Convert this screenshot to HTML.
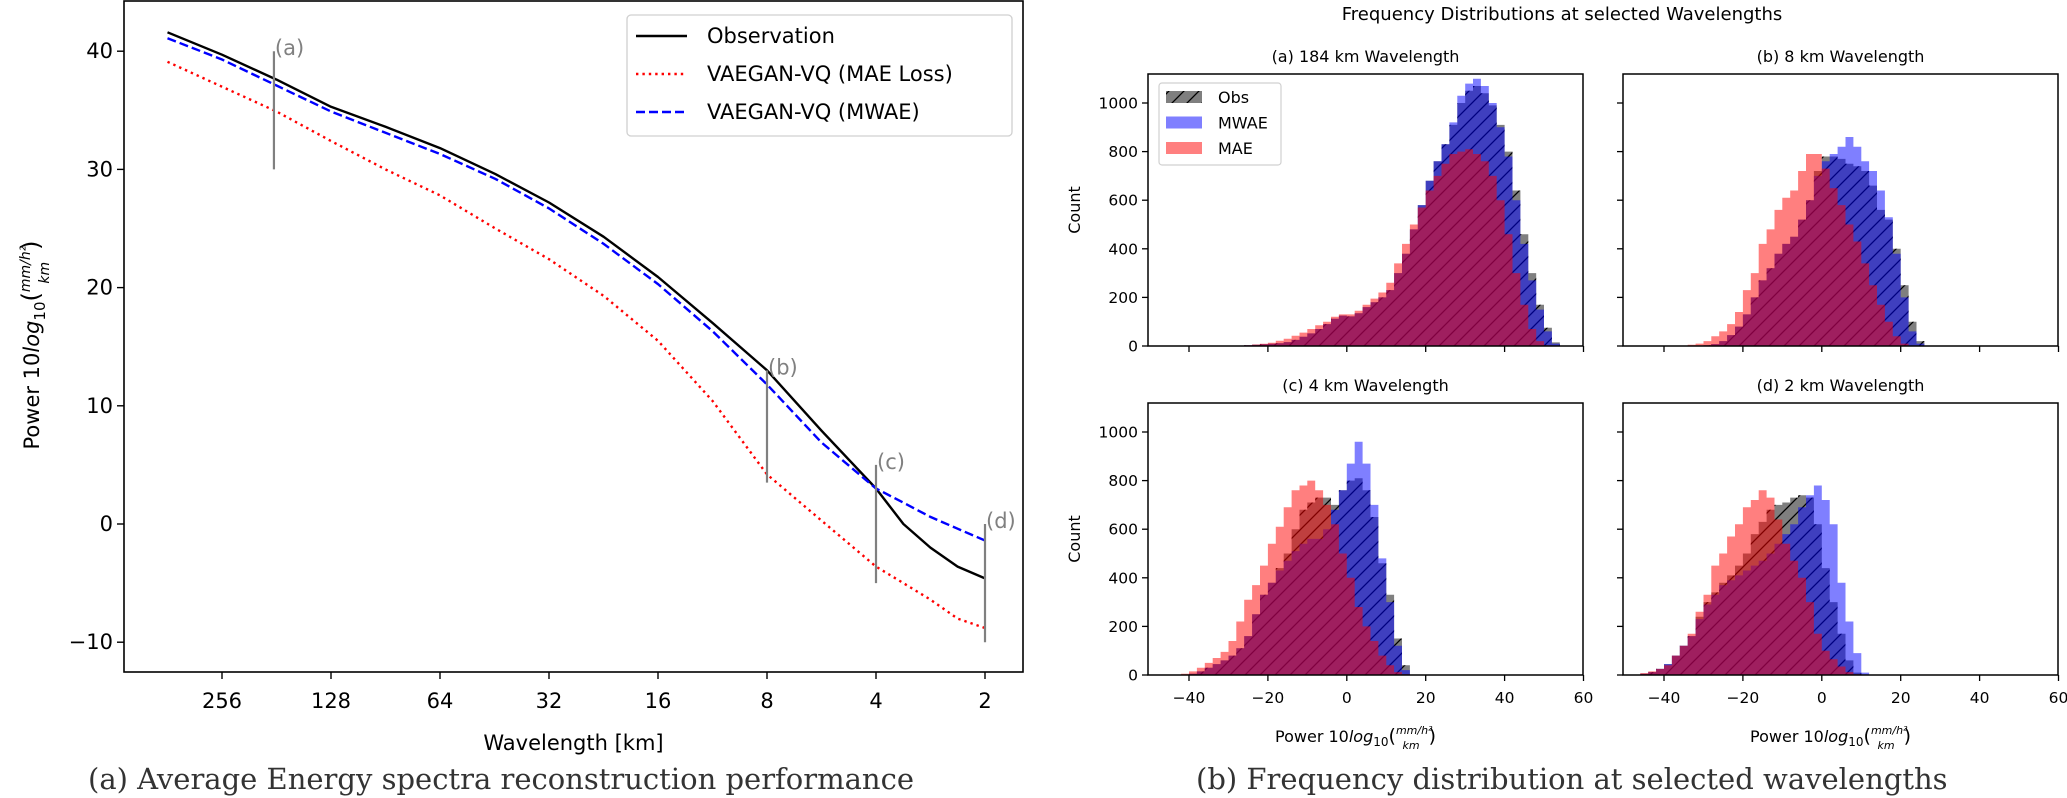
<!DOCTYPE html>
<html><head><meta charset="utf-8">
<style>
html,body{margin:0;padding:0;background:#fff;}
svg{display:block;font-family:"DejaVu Sans","Liberation Sans",sans-serif;}
</style></head>
<body>
<svg id="fig" width="2067" height="798" viewBox="0 0 2067 798" xmlns="http://www.w3.org/2000/svg">
<defs>
<pattern id="hatch" patternUnits="userSpaceOnUse" width="15" height="15">
<path d="M-1,16 L16,-1 M-2,2 L2,-2 M13,17 L17,13" stroke="#000" stroke-width="1.3"/>
</pattern>
</defs>
<g id="left"></g>
<g id="right"></g>
<text x="88" y="789" font-family="DejaVu Serif, Liberation Serif, serif" font-size="29" fill="#333">(a) Average Energy spectra reconstruction performance</text>
<text x="1196" y="789" font-family="DejaVu Serif, Liberation Serif, serif" font-size="29" fill="#333">(b) Frequency distribution at selected wavelengths</text>
</svg>
<script>
// ---------- Left chart data ----------
const wavelengths = [362, 256, 181, 128, 90.5, 64, 45, 32, 22.6, 16, 11.3, 8, 5.66, 4, 3.36, 2.83, 2.38, 2];
const obsPower  = [41.6, 39.7, 37.6, 35.3, 33.6, 31.8, 29.6, 27.2, 24.3, 20.9, 17.0, 13.0, 7.9, 3.0, 0.0, -2.0, -3.6, -4.6];
const mwaePower = [41.1, 39.3, 37.1, 34.9, 33.1, 31.3, 29.2, 26.7, 23.7, 20.3, 16.3, 11.8, 6.9, 3.0, 1.8, 0.6, -0.4, -1.4];
const maePower  = [39.1, 37.0, 34.9, 32.4, 30.0, 27.8, 25.0, 22.4, 19.3, 15.5, 10.4, 4.2, 0.3, -3.6, -5.0, -6.4, -8.0, -8.8];
const xTickLabels = [256, 128, 64, 32, 16, 8, 4, 2];
const yTickLabels = [-10, 0, 10, 20, 30, 40];
const markerLambdas = [184, 8, 4, 2];
const markerLabels = ["(a)", "(b)", "(c)", "(d)"];
const markerLow = [30, 3.5, -5, -10];
const markerHigh = [40, 13, 5, 0];

// ---------- Histogram data (bin width 2) ----------
const histTitles = ["(a) 184 km Wavelength", "(b) 8 km Wavelength", "(c) 4 km Wavelength", "(d) 2 km Wavelength"];
const histFirstCenter = [-27, -37, -43, -47];
const obsA  = [0,3,5,7,9,11,16,25,38,52,70,90,112,125,122,135,160,180,200,230,300,380,480,580,680,760,830,910,1000,1050,1070,1040,990,910,800,640,460,300,170,75,15];
const mwaeA = [0,3,5,7,9,11,16,25,38,52,70,90,112,125,122,135,160,180,200,230,300,380,480,580,680,760,830,920,1030,1080,1100,1070,1000,900,780,600,420,270,150,60,10];
const maeA  = [0,3,6,9,13,22,30,42,55,70,85,100,120,130,130,145,170,195,220,260,340,420,500,570,640,700,750,790,800,810,790,760,700,600,460,300,170,70,20,3,0];
const obsB  = [0,0,0,1,3,8,20,45,80,130,200,270,320,380,420,450,520,600,720,780,780,770,750,740,720,660,560,520,400,250,100,20,2];
const mwaeB = [0,0,0,1,3,8,20,45,80,130,200,270,320,380,420,450,520,600,700,760,790,820,860,820,760,720,640,530,380,200,60,10,0];
const maeB  = [0,2,5,10,20,40,60,90,140,230,300,420,480,560,610,640,720,790,790,730,650,580,500,430,340,250,170,100,40,10,2,0,0];
const obsC  = [0,2,5,15,30,45,60,80,110,160,250,330,380,440,500,600,680,710,730,730,700,760,800,810,760,650,460,330,150,40,2];
const mwaeC = [0,2,5,15,30,45,60,80,110,160,250,330,380,430,470,510,540,560,560,600,680,760,870,960,870,700,480,300,120,20,0];
const maeC  = [2,5,15,30,50,70,95,140,220,310,370,450,540,610,690,760,780,800,760,700,620,500,400,280,200,140,80,40,12,3,0];
const obsD  = [1,5,12,25,45,80,120,160,240,300,340,380,410,450,500,580,630,680,700,710,730,740,730,620,440,300,170,60,10,0,0];
const mwaeD = [1,5,12,25,45,80,120,160,230,290,330,370,390,410,430,450,470,500,540,580,620,690,740,780,720,620,380,220,90,10,0];
const maeD  = [2,8,15,25,40,80,120,170,260,330,450,500,570,620,690,720,760,730,640,540,470,400,300,170,100,65,35,12,3,0,0];
const histXTicks = [-40, -20, 0, 20, 40, 60];
const histYTicks = [0, 200, 400, 600, 800, 1000];

const NS = "http://www.w3.org/2000/svg";
function mk(tag, attrs, parent, txt) {
  const e = document.createElementNS(NS, tag);
  for (const k in attrs) e.setAttribute(k, attrs[k]);
  if (txt !== undefined) e.textContent = txt;
  parent.appendChild(e);
  return e;
}

// ---------- Left chart ----------
const L = document.getElementById('left');
const AX = {l:124, r:1023, t:1, b:672};
const xL = lam => 222 + 109 * Math.log2(256 / lam);
const yL = v => 524 - v * 11.82;

const frame = mk('rect', {x:AX.l, y:AX.t, width:AX.r-AX.l, height:AX.b-AX.t, fill:'none', stroke:'#000', 'stroke-width':1.6}, L);



yTickLabels.forEach(v => {
  const y = yL(v);
  const t = mk('line', {x1:AX.l-7, x2:AX.l, y1:y, y2:y, stroke:'#000', 'stroke-width':1.4}, L);
  
  
  const lb = mk('text', {x:AX.l-11, y:y+7, 'text-anchor':'end', 'font-size':21}, L, v < 0 ? '\u2212' + Math.abs(v) : String(v));
  
  
});
xTickLabels.forEach(v => {
  const x = xL(v);
  const t = mk('line', {x1:x, x2:x, y1:AX.b, y2:AX.b+7, stroke:'#000', 'stroke-width':1.4}, L);
  
  
  const lb = mk('text', {x:x, y:AX.b+36, 'text-anchor':'middle', 'font-size':21}, L, String(v));
  
  
});
const xt = mk('text', {x:(AX.l+AX.r)/2, y:750, 'text-anchor':'middle', 'font-size':21}, L, 'Wavelength [km]');



const yt = mk('text', {transform:'translate(39,345) rotate(-90)', 'text-anchor':'middle', 'font-size':21}, L);


yt.innerHTML = 'Power 10<tspan font-style="italic">log</tspan><tspan font-size="15" dy="6">10</tspan><tspan dy="-6" font-size="24">(</tspan><tspan font-size="14" font-style="italic" dy="-9">mm/h²</tspan><tspan font-size="14" font-style="italic" dx="-38" dy="19">km</tspan><tspan dx="12" dy="-10" font-size="24">)</tspan>';

function linePath(vals) {
  return vals.map((v, i) => (i ? 'L' : 'M') + xL(wavelengths[i]).toFixed(1) + ',' + yL(v).toFixed(1)).join(' ');
}
const pObs = mk('path', {d:linePath(obsPower), fill:'none', stroke:'#000', 'stroke-width':2.4, 'stroke-linejoin':'round'}, L);


const pMae = mk('path', {d:linePath(maePower), fill:'none', stroke:'#ff0000', 'stroke-width':2.4, 'stroke-dasharray':'2.4 4'}, L);


const pMw = mk('path', {d:linePath(mwaePower), fill:'none', stroke:'#0000ff', 'stroke-width':2.4, 'stroke-dasharray':'9 4'}, L);



markerLambdas.forEach((lam, i) => {
  const x = xL(lam);
  const m = mk('line', {x1:x, x2:x, y1:yL(markerLow[i]), y2:yL(markerHigh[i]), stroke:'#808080', 'stroke-width':2.2}, L);
  
  
  const t = mk('text', {x:x+1, y:yL(markerHigh[i])+4, 'font-size':21, fill:'#808080'}, L, markerLabels[i]);
  
  
});

// legend
const lg = mk('g', {}, L);


mk('rect', {x:627, y:15, width:385, height:121, rx:4, fill:'#fff', 'fill-opacity':0.8, stroke:'#d0d0d0', 'stroke-width':1.3}, lg);
const legItems = [['Observation','#000',''],['VAEGAN-VQ (MAE Loss)','#ff0000','2.4 4'],['VAEGAN-VQ (MWAE)','#0000ff','9 4']];
legItems.forEach((it, i) => {
  const y = 36 + i * 38;
  const ln = mk('line', {x1:636, x2:687, y1:y, y2:y, stroke:it[1], 'stroke-width':2.4, 'stroke-dasharray':it[2] || 'none'}, lg);
  
  
  const t = mk('text', {x:707, y:y+7, 'font-size':21}, lg, it[0]);
  
  
});

// ---------- Histograms ----------
const R = document.getElementById('right');
const st = mk('text', {x:1562, y:20, 'text-anchor':'middle', 'font-size':18}, R, 'Frequency Distributions at selected Wavelengths');



const panels = [
  {l:1148, t:74, obs:obsA, mw:mwaeA, mae:maeA, xl:false, yl:true},
  {l:1623, t:74, obs:obsB, mw:mwaeB, mae:maeB, xl:false, yl:false},
  {l:1148, t:403, obs:obsC, mw:mwaeC, mae:maeC, xl:true, yl:true},
  {l:1623, t:403, obs:obsD, mw:mwaeD, mae:maeD, xl:true, yl:false}
];
const PW = 435, PH = 272, PXU = 3.945, PYU = 0.2430;

panels.forEach((p, pi) => {
  const g = mk('g', {}, R);
  
  
  const x = v => p.l + 41 + (v + 40) * PXU;
  const y = c => p.t + PH - c * PYU;
  const base = p.t + PH;
  const clipId = 'clip' + pi;
  const cp = mk('clipPath', {id:clipId}, g);
  mk('rect', {x:p.l, y:p.t, width:PW, height:PH}, cp);

  function stepD(arr) {
    const c0 = histFirstCenter[pi];
    let d = 'M' + x(c0 - 1).toFixed(1) + ',' + base;
    arr.forEach((c, i) => {
      const cx = c0 + 2 * i;
      d += ' L' + x(cx - 1).toFixed(1) + ',' + y(c).toFixed(1) + ' L' + x(cx + 1).toFixed(1) + ',' + y(c).toFixed(1);
    });
    d += ' L' + x(c0 + 2 * (arr.length - 1) + 1).toFixed(1) + ',' + base + ' Z';
    return d;
  }
  const hg = mk('g', {'clip-path':'url(#' + clipId + ')'}, g);
  const o1 = mk('path', {d:stepD(p.obs), fill:'#000', 'fill-opacity':0.5}, hg);
  
  
  const o2 = mk('path', {d:stepD(p.obs), fill:'url(#hatch)'}, hg);
  
  
  const b = mk('path', {d:stepD(p.mw), fill:'#0000ff', 'fill-opacity':0.5}, hg);
  
  
  const r = mk('path', {d:stepD(p.mae), fill:'#ff0000', 'fill-opacity':0.5}, hg);
  
  

  const fr = mk('rect', {x:p.l, y:p.t, width:PW, height:PH, fill:'none', stroke:'#000', 'stroke-width':1.5}, g);
  
  

  histXTicks.forEach(v => {
    const tx = x(v);
    const t = mk('line', {x1:tx, x2:tx, y1:base, y2:base+6, stroke:'#000', 'stroke-width':1.3}, g);
    
    
    if (p.xl) {
      const lb = mk('text', {x:tx, y:base+28, 'text-anchor':'middle', 'font-size':15.5}, g, v < 0 ? '\u2212' + Math.abs(v) : String(v));
      
      
    }
  });
  histYTicks.forEach(v => {
    const ty = y(v);
    const t = mk('line', {x1:p.l-6, x2:p.l, y1:ty, y2:ty, stroke:'#000', 'stroke-width':1.3}, g);
    
    
    if (p.yl) {
      const lb = mk('text', {x:p.l-10, y:ty+5.5, 'text-anchor':'end', 'font-size':15.5}, g, String(v));
      
      
    }
  });
  const tt = mk('text', {x:p.l + PW/2, y:p.t - 12, 'text-anchor':'middle', 'font-size':16}, g, histTitles[pi]);
  
  
  if (p.yl) {
    const yl = mk('text', {transform:'translate(' + (p.l - 68) + ',' + (p.t + PH/2) + ') rotate(-90)', 'text-anchor':'middle', 'font-size':16}, g, 'Count');
    
    
  }
  if (p.xl) {
    const xl = mk('text', {x:p.l + PW/2 - 10, y:base + 67, 'text-anchor':'middle', 'font-size':16}, g);
    
    
    xl.innerHTML = 'Power 10<tspan font-style="italic">log</tspan><tspan font-size="12" dy="4">10</tspan><tspan dy="-4" font-size="19">(</tspan><tspan font-size="11" font-style="italic" dy="-8">mm/h²</tspan><tspan font-size="11" font-style="italic" dx="-30" dy="15">km</tspan><tspan dx="9" dy="-7" font-size="19">)</tspan>';
  }
});

// histogram legend in panel (a)
const hl = mk('g', {}, R);


mk('rect', {x:1159, y:83, width:122, height:82, rx:3, fill:'#fff', 'fill-opacity':0.8, stroke:'#d0d0d0', 'stroke-width':1.2}, hl);
const hItems = [['Obs','#000'],['MWAE','#0000ff'],['MAE','#ff0000']];
hItems.forEach((it, i) => {
  const yy = 91 + i * 25.5;
  const pt = mk('rect', {x:1166, y:yy, width:36, height:12, fill:it[1], 'fill-opacity':0.5}, hl);
  
  
  if (i === 0) mk('rect', {x:1166, y:yy, width:36, height:12, fill:'url(#hatch)'}, hl);
  const t = mk('text', {x:1218, y:yy + 12, 'font-size':16}, hl, it[0]);
  
  
});
</script>
</body></html>
